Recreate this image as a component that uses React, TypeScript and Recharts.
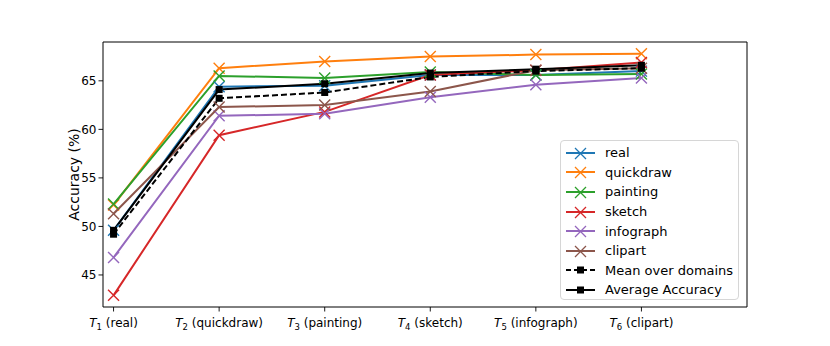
import { LineChart, Line, XAxis, YAxis, ReferenceArea, Legend } from 'recharts';

const domains = ['real', 'quickdraw', 'painting', 'sketch', 'infograph', 'clipart'];
const real = [49.6, 64.4, 64.5, 65.6, 65.6, 66.0];
const quickdraw = [52.2, 66.3, 67.0, 67.5, 67.7, 67.8];
const painting = [52.3, 65.5, 65.3, 65.9, 65.6, 65.7];
const sketch = [42.9, 59.4, 61.8, 65.6, 66.1, 66.9];
const infograph = [46.8, 61.4, 61.6, 63.3, 64.6, 65.3];
const clipart = [51.3, 62.3, 62.5, 63.9, 66.1, 66.3];
const meanOverDomains = [49.2, 63.2, 63.8, 65.4, 66.0, 66.3];
const averageAccuracy = [49.6, 64.1, 64.7, 65.8, 66.2, 66.6];
const yTicks = [45, 50, 55, 60, 65];

const data = domains.map((_d, i) => ({
  x: i,
  real: real[i],
  quickdraw: quickdraw[i],
  painting: painting[i],
  sketch: sketch[i],
  infograph: infograph[i],
  clipart: clipart[i],
  mean: meanOverDomains[i],
  avg: averageAccuracy[i],
}));

const series = [
  { key: 'real', name: 'real', color: '#1f77b4', marker: 'x', dash: undefined },
  { key: 'quickdraw', name: 'quickdraw', color: '#ff7f0e', marker: 'x', dash: undefined },
  { key: 'painting', name: 'painting', color: '#2ca02c', marker: 'x', dash: undefined },
  { key: 'sketch', name: 'sketch', color: '#d62728', marker: 'x', dash: undefined },
  { key: 'infograph', name: 'infograph', color: '#9467bd', marker: 'x', dash: undefined },
  { key: 'clipart', name: 'clipart', color: '#8c564b', marker: 'x', dash: undefined },
  { key: 'mean', name: 'Mean over domains', color: '#000000', marker: 's', dash: '6 3' },
  { key: 'avg', name: 'Average Accuracy', color: '#000000', marker: 's', dash: undefined },
];

const FONT = 'DejaVu Sans, sans-serif';

const makeDot = (color: string, marker: string) => (props: any) => {
  const { cx, cy, index } = props;
  if (cx == null || cy == null) return <g key={index} />;
  if (marker === 's') {
    return <rect key={index} x={cx - 3.5} y={cy - 3.5} width={7} height={7} fill={color} />;
  }
  const r = 5.5;
  return (
    <path
      key={index}
      d={`M${cx - r},${cy - r}L${cx + r},${cy + r}M${cx - r},${cy + r}L${cx + r},${cy - r}`}
      stroke={color}
      strokeWidth={1.4}
      fill="none"
    />
  );
};

const XTick = ({ x, y, payload }: any) => {
  const i = payload.value;
  return (
    <g>
      <line x1={x} x2={x} y1={y - 8} y2={y - 3.5} stroke="#000" strokeWidth={0.9} />
      <text x={x} y={y + 12} textAnchor="middle" fontSize={12} fontFamily={FONT} fill="#000">
        <tspan fontStyle="italic">T</tspan>
        <tspan fontSize={8.5} dy={3}>{i + 1}</tspan>
        <tspan dy={-3}>{` (${domains[i]})`}</tspan>
      </text>
    </g>
  );
};

const LegendBox = () => (
  <div
    style={{
      width: 179,
      height: 160,
      border: '1px solid #d6d6d6',
      borderRadius: 4,
      background: 'rgba(255,255,255,0.85)',
      boxSizing: 'border-box',
      paddingTop: 2,
      fontFamily: FONT,
      fontSize: 13,
      color: '#000',
    }}
  >
    {series.map((s) => (
      <div key={s.key} style={{ display: 'flex', alignItems: 'center', height: 19.6 }}>
        <svg width={42} height={16} style={{ marginLeft: 2 }}>
          <line x1={3} x2={32} y1={8} y2={8} stroke={s.color} strokeWidth={2} strokeDasharray={s.dash ? '5 3' : undefined} />
          {s.marker === 's' ? (
            <rect x={14} y={4.5} width={7} height={7} fill={s.color} />
          ) : (
            <path d="M12,3L23,14M12,14L23,3" stroke={s.color} strokeWidth={1.3} />
          )}
        </svg>
        <span>{s.name}</span>
      </div>
    ))}
  </div>
);

export default function App() {
  return (
    <div style={{ position: 'absolute', left: 0, top: 0, width: 830, height: 346, background: '#fff' }}>
      <LineChart width={830} height={346} data={data} margin={{ top: 42, right: 83, bottom: 9, left: 0 }}>
        <XAxis
          dataKey="x"
          type="number"
          domain={[-0.1, 6]}
          ticks={[0, 1, 2, 3, 4, 5]}
          interval={0}
          height={30}
          axisLine={false}
          tickLine={false}
          tick={<XTick />}
          allowDecimals={false}
        />
        <YAxis
          type="number"
          domain={[41.7, 69]}
          ticks={yTicks}
          width={103}
          axisLine={false}
          tickSize={4.5}
          tickLine={{ stroke: '#000', strokeWidth: 0.9 }}
          tick={{ fontSize: 12, fontFamily: FONT, fill: '#000' }}
          allowDataOverflow
          label={() => (
            <text
              x={74}
              y={174.5}
              textAnchor="middle"
              dominantBaseline="central"
              fontSize={14}
              fontFamily={FONT}
              transform="rotate(-90, 74, 174.5)"
            >
              Accuracy (%)
            </text>
          )}
        />
        <ReferenceArea x1={-0.1} x2={6} y1={41.7} y2={69} fill="none" stroke="#000" strokeWidth={1} ifOverflow="visible" />
        {series.map((s) => (
          <Line
            key={s.key}
            type="linear"
            dataKey={s.key}
            name={s.name}
            stroke={s.color}
            strokeWidth={2}
            strokeDasharray={s.dash}
            dot={makeDot(s.color, s.marker)}
            activeDot={false}
            isAnimationActive={false}
          />
        ))}
        <Legend
          layout="vertical"
          align="center"
          verticalAlign="middle"
          wrapperStyle={{ left: 560, top: 140, width: 179, height: 160 }}
          content={() => <LegendBox />}
        />
      </LineChart>
    </div>
  );
}
